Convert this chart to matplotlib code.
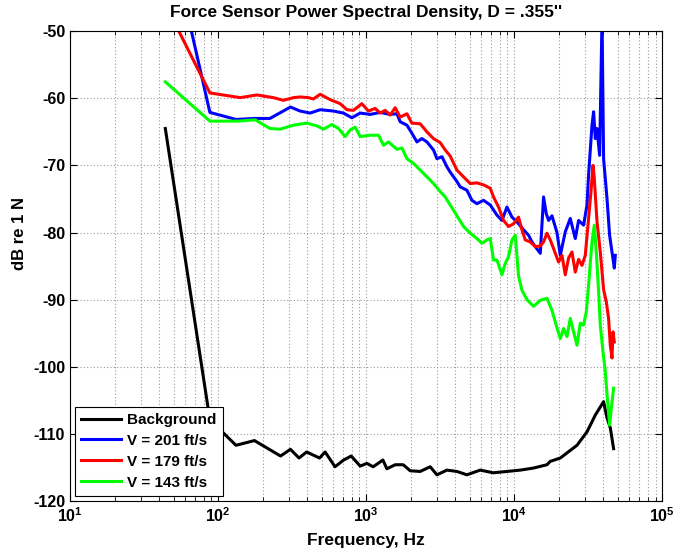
import matplotlib
matplotlib.use("Agg")
import matplotlib.pyplot as plt
from matplotlib.ticker import LogLocator, FixedFormatter, FixedLocator, NullFormatter

plt.rcParams['font.family'] = ['Liberation Sans', 'DejaVu Sans']
plt.rcParams['font.weight'] = 'bold'
plt.rcParams['axes.titleweight'] = 'bold'
plt.rcParams['axes.labelweight'] = 'bold'
plt.rcParams['axes.unicode_minus'] = False
plt.rcParams['mathtext.fontset'] = 'custom'
plt.rcParams['mathtext.rm'] = 'Liberation Sans:bold'

# ---- data (Hz, dB re 1 N) ----
bg_f = [44, 88, 132, 176, 264, 308, 352, 396, 484, 528, 616, 704, 792, 911, 1011,
        1115, 1297, 1380, 1570, 1778, 1983, 2317, 2706, 3004, 3510, 4101, 4790,
        5893, 7213, 8926, 10977, 13440, 16630, 17500, 20460, 26530, 30990, 35270,
        40120, 42300, 44530, 46880]
bg_db = [-64.5, -107.9, -111.7, -111.0, -113.3, -112.3, -113.6, -112.7, -113.6, -112.7,
         -114.9, -113.9, -113.3, -114.8, -114.4, -114.9, -113.9, -115.2, -114.6, -114.6,
         -115.5, -115.6, -114.9, -116.1, -115.4, -115.6, -116.1, -115.4, -115.8, -115.6,
         -115.4, -115.1, -114.6, -114.1, -113.6, -111.7, -109.7, -107.2, -105.2, -107.6,
         -109.1, -112.2]

v201_f = [44, 88, 132, 176, 224, 308, 358, 418, 489, 601, 702, 801, 911, 1064, 1243,
          1453, 1612, 1697, 1884, 2036, 2201, 2379, 2571, 2849, 3004, 3248, 3510, 3694,
          4101, 4316, 4790, 5178, 5598, 6202, 6884, 7641, 8259, 8926, 9650, 10428,
          11556, 12491, 13172, 13867, 14991, 15776, 16455, 17055, 17978, 19434, 20460,
          22115, 23895, 25835, 27200, 29395, 30990, 31770, 33500, 34350, 35270, 36220,
          37720, 39150, 40120, 42300, 44050, 45720, 47390, 48130]
v201_db = [-32.9, -62.1, -63.15, -63.0, -63.0, -61.3, -61.9, -62.2, -61.7, -61.9, -62.2,
           -62.9, -62.2, -62.4, -62.1, -62.4, -62.3, -63.5, -64.0, -65.2, -66.5, -66.0,
           -66.5, -67.7, -69.0, -68.7, -70.2, -71.0, -72.4, -73.2, -73.7, -75.2, -75.7,
           -75.2, -75.9, -77.4, -78.2, -76.2, -77.7, -78.4, -79.6, -80.4, -81.4, -82.1,
           -83.1, -74.7, -77.2, -78.2, -77.5, -80.0, -83.4, -79.9, -77.9, -80.9, -78.2,
           -78.9, -75.9, -71.4, -64.0, -62.0, -66.0, -64.5, -68.5, -48.0, -69.0, -74.9,
           -80.4, -82.9, -85.3, -83.4]

v179_f = [44, 88, 141, 183, 236, 276, 323, 358, 407, 440, 489, 571, 667, 741, 821, 935,
          1036, 1150, 1243, 1344, 1453, 1570, 1697, 1884, 2036, 2317, 2571, 2849, 3162,
          3418, 3694, 4101, 4544, 5042, 5598, 6202, 6884, 7246, 7833, 8467, 9152, 9892,
          10693, 11272, 11865, 12826, 13867, 14991, 15776, 16630, 17508, 18431, 19924,
          21010, 22115, 23275, 24540, 25835, 27200, 28665, 30177, 31770, 32980, 34020,
          34710, 36220, 38120, 40120, 41830, 43360, 44530, 45720, 46450, 47390]
v179_db = [-46.0, -59.2, -59.9, -59.5, -59.9, -60.3, -59.9, -59.8, -59.9, -60.1, -59.4,
           -60.2, -60.8, -61.7, -61.8, -60.8, -61.9, -61.5, -62.2, -61.8, -62.5, -61.4,
           -62.8, -62.3, -63.7, -63.8, -65.0, -66.0, -66.6, -67.7, -68.6, -70.7, -71.7,
           -72.7, -72.6, -72.9, -73.4, -74.7, -76.2, -78.2, -79.1, -78.7, -77.7, -79.6,
           -81.1, -81.4, -82.1, -82.0, -81.4, -80.1, -81.1, -82.4, -84.4, -83.4, -86.3,
           -83.8, -82.9, -85.9, -84.0, -84.9, -83.4, -77.9, -73.9, -70.0, -71.9, -78.4,
           -82.9, -88.5, -90.3, -92.8, -96.8, -98.7, -94.8, -96.3]

v143_f = [44, 88, 137, 178, 224, 262, 323, 397, 464, 515, 587, 650, 721, 780, 843, 911,
          1064, 1211, 1309, 1415, 1612, 1743, 1884, 2087, 2317, 2571, 2849, 3162, 3418,
          3694, 4101, 4544, 5042, 5598, 6050, 6540, 6884, 7246, 7641, 8259, 8695, 9152,
          9650, 10158, 10693, 11272, 12180, 13500, 14991, 16630, 17978, 19434, 20460,
          21530, 22700, 23895, 25160, 26530, 27920, 29395, 30660, 31770, 33500, 34710,
          35830, 37120, 38120, 39750, 41190, 42700, 44050, 45230, 46880]
v143_db = [-57.55, -63.4, -63.4, -63.2, -64.5, -64.6, -64.0, -63.7, -64.1, -64.6, -63.9,
           -64.5, -65.7, -64.7, -64.3, -65.7, -65.5, -65.5, -67.0, -66.5, -67.6, -67.4,
           -69.0, -69.7, -70.7, -71.7, -72.7, -73.9, -74.7, -75.9, -77.5, -79.1, -80.1,
           -80.9, -81.6, -81.1, -80.9, -84.1, -84.1, -86.3, -84.6, -83.6, -81.1, -80.4,
           -86.5, -88.6, -90.0, -91.0, -90.1, -89.8, -91.6, -94.2, -95.8, -94.3, -95.5,
           -92.8, -94.8, -96.8, -93.5, -93.8, -91.8, -87.8, -81.4, -78.9, -82.9, -88.8,
           -93.8, -97.8, -100.7, -105.2, -108.7, -106.2, -103.2]

labels = ['Background', 'V = 201 ft/s', 'V = 179 ft/s', 'V = 143 ft/s']
colors = ['black', 'blue', 'red', (0, 1, 0)]

fig = plt.figure(figsize=(6.8, 5.54), dpi=100)
ax = fig.add_axes([0.103, 0.0957, 0.871, 0.848])

series = [(bg_f, bg_db), (v201_f, v201_db), (v179_f, v179_db), (v143_f, v143_db)]
for (f, d), lab, c in zip(series, labels, colors):
    ax.plot(f, d, color=c, lw=2.2, label=lab)

ax.set_xscale('log')
ax.set_xlim(10, 1e5)
ax.set_ylim(-120, -50)
ax.set_yticks(range(-120, -49, 10))
ax.xaxis.set_major_locator(FixedLocator([1e1, 1e2, 1e3, 1e4, 1e5]))
ax.xaxis.set_major_formatter(FixedFormatter(['$\\mathregular{10^{1}}$', '$\\mathregular{10^{2}}$',
                                             '$\\mathregular{10^{3}}$', '$\\mathregular{10^{4}}$',
                                             '$\\mathregular{10^{5}}$']))
ax.xaxis.set_minor_locator(LogLocator(base=10, subs=range(2, 10)))
ax.xaxis.set_minor_formatter(NullFormatter())

ax.grid(True, which='major', color='#999999', linestyle=(0, (1, 2)), lw=0.8)
ax.grid(True, which='minor', axis='x', color='#999999', linestyle=(0, (1, 2)), lw=0.8)
ax.tick_params(which='both', direction='in', top=True, right=True, labelsize=11.5)
ax.tick_params(which='major', length=5)
ax.tick_params(which='minor', length=3)

ax.set_title("Force Sensor Power Spectral Density, D = .355''", fontsize=12.5, pad=10)
ax.set_xlabel('Frequency, Hz', fontsize=12.5, labelpad=6)
ax.set_ylabel('dB re 1 N', fontsize=12)
ax.yaxis.set_label_coords(-0.072, 0.57)

leg = ax.legend(loc='lower left', fontsize=11, fancybox=False, framealpha=1,
                edgecolor='black', handlelength=2.6, borderaxespad=0.35,
                labelspacing=0.45, borderpad=0.4, handletextpad=0.4)
leg.get_frame().set_linewidth(0.8)

fig.savefig('out.png', dpi=100)
